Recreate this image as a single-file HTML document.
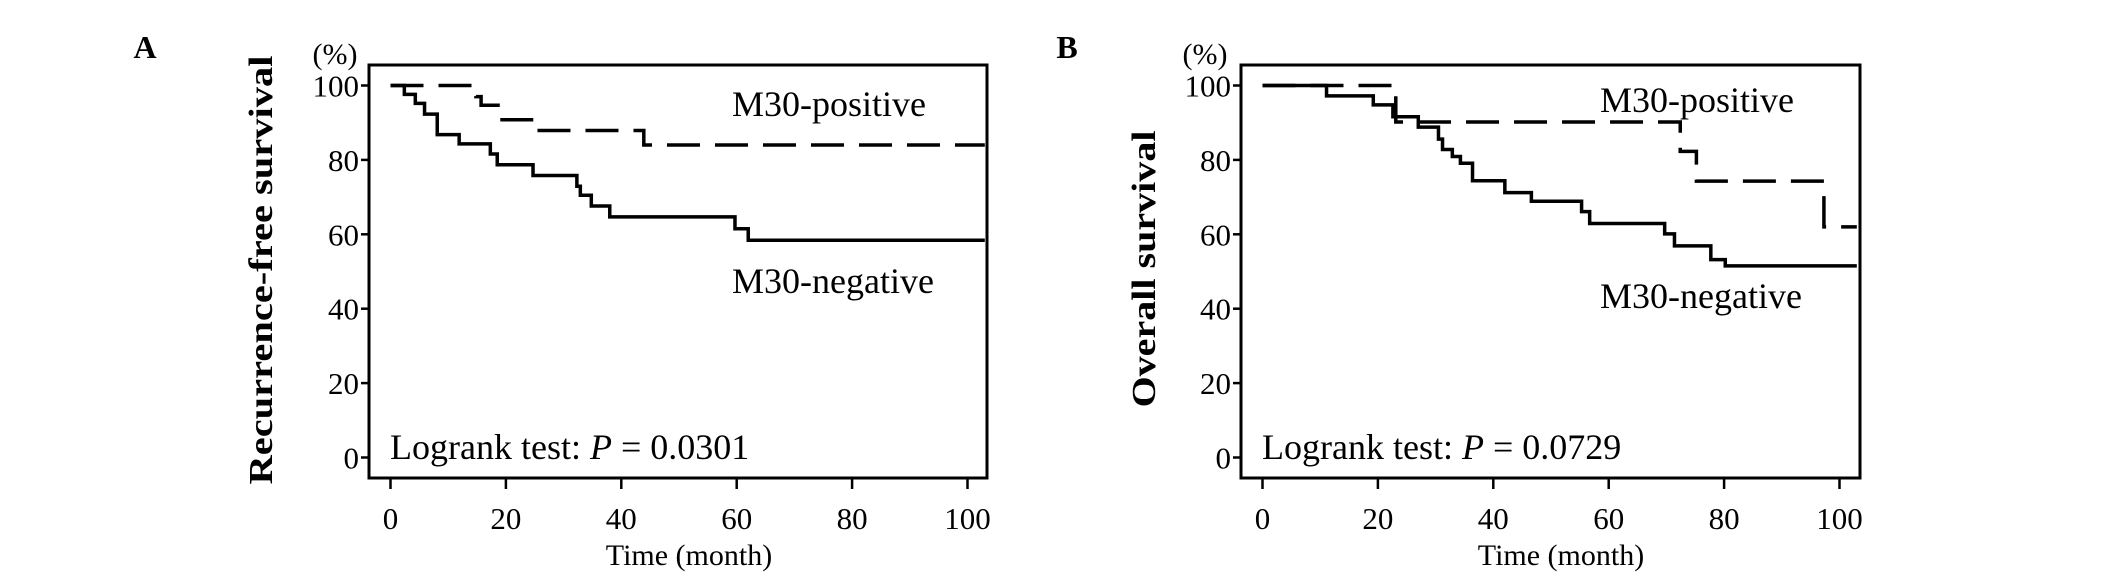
<!DOCTYPE html>
<html><head><meta charset="utf-8"><style>
html,body{margin:0;padding:0;background:#fff;}
svg{display:block;font-family:"Liberation Serif",serif;}
</style></head><body>
<svg id="fig" width="2126" height="583" viewBox="0 0 2126 583" xmlns="http://www.w3.org/2000/svg">
<rect width="2126" height="583" fill="#fff"/>
</svg>
<script>
// Panel A: recurrence-free survival
const aPosTimes = [0, 14.8, 15.7, 19, 25, 43.9, 103];
const aPosVals  = [100, 97, 94.7, 90.8, 87.9, 84, 84];
const aNegTimes = [0, 2.4, 4.3, 5.9, 8.1, 11.9, 17.3, 18.5, 24.7, 32.3, 32.9, 34.8, 38, 59.7, 62, 103];
const aNegVals  = [100, 97.6, 95.2, 92.3, 86.8, 84.3, 81.6, 78.7, 75.8, 72.9, 70.5, 67.6, 64.7, 61.5, 58.4, 58.4];
// Panel B: overall survival
const bPosTimes = [0, 23.1, 72.4, 75.2, 97.3, 103];
const bPosVals  = [100, 90.2, 82.3, 74.3, 62, 62];
const bNegTimes = [0, 11.1, 19.2, 22.6, 27, 30.5, 31.2, 32.9, 34.3, 36.4, 42, 46.6, 55.3, 56.7, 69.7, 71.4, 77.7, 80.2, 103];
const bNegVals  = [100, 97.2, 94.8, 91.6, 88.8, 85.6, 82.8, 80.9, 79.1, 74.4, 71.2, 68.9, 66.1, 62.9, 60.1, 56.9, 53.2, 51.5, 51.5];
const xTicks = [0, 20, 40, 60, 80, 100];
const yTicks = [0, 20, 40, 60, 80, 100];

const NS = "http://www.w3.org/2000/svg";
const svg = document.getElementById('fig');
function mk(tag, attrs, parent, text){
  const e = document.createElementNS(NS, tag);
  for (const k in attrs) e.setAttribute(k, attrs[k]);
  if (text !== undefined) e.textContent = text;
  (parent || svg).appendChild(e);
  return e;
}

function panel(cfg){
  const g = mk('g', {});
  
  
  const x0 = cfg.x0, y0 = 457.5, ppm = 5.77, ppp = 3.72;
  const X = t => x0 + t * ppm;
  const Y = v => y0 - v * ppp;
  const box = mk('rect', {x: cfg.boxL, y: 65, width: cfg.boxR - cfg.boxL, height: 478 - 65, fill: 'none', stroke: '#000', 'stroke-width': 3}, g);
  
  
  yTicks.forEach(v => {
    const l = mk('line', {x1: cfg.boxL - 8, x2: cfg.boxL, y1: Y(v), y2: Y(v), stroke: '#000', 'stroke-width': 2.5}, g);
    
    
    const t = mk('text', {x: cfg.boxL - 10, y: Y(v) + 11, 'text-anchor': 'end', 'font-size': 31}, g, String(v));
    
    
  });
  xTicks.forEach(v => {
    const l = mk('line', {x1: X(v), x2: X(v), y1: 478, y2: 489, stroke: '#000', 'stroke-width': 2.5}, g);
    
    
    const t = mk('text', {x: X(v), y: 529, 'text-anchor': 'middle', 'font-size': 31}, g, String(v));
    
    
  });
  function step(times, vals, dashed, name){
    let d = 'M' + X(times[0]) + ' ' + Y(vals[0]);
    for (let i = 1; i < times.length; i++){
      d += ' H' + Math.min(X(times[i]), cfg.boxR - 2);
      d += ' V' + Y(vals[i]);
    }
    const p = mk('path', {d: d, fill: 'none', stroke: '#000', 'stroke-width': 3.5, 'stroke-dasharray': dashed ? '33 15' : 'none'}, g);
    
    
  }
  step(cfg.negT, cfg.negV, false, 'm30-negative-curve');
  step(cfg.posT, cfg.posV, true, 'm30-positive-curve');
  const pl = mk('text', {x: cfg.posX, y: cfg.posY, 'font-size': 36}, g, 'M30-positive');
  
  
  const nl = mk('text', {x: cfg.negX, y: cfg.negY, 'font-size': 36}, g, 'M30-negative');
  
  
  const lr = mk('text', {x: cfg.boxL + 21, y: 459, 'font-size': 36}, g);
  
  
  mk('tspan', {}, lr, 'Logrank test: ');
  mk('tspan', {'font-style': 'italic'}, lr, 'P');
  mk('tspan', {}, lr, ' = ' + cfg.p);
  const tt = mk('text', {x: (X(0) + X(100)) / 2 + 10, y: 565, 'text-anchor': 'middle', 'font-size': 30, 'xml:space': 'preserve'}, g, 'Time  (month)');
  
  
  const pc = mk('text', {x: cfg.pctX, y: 64, 'text-anchor': 'middle', 'font-size': 30}, g, '(%)');
  
  
  const yt = mk('text', {x: 0, y: 0, 'text-anchor': 'middle', 'font-size': 34, 'font-weight': 'bold', textLength: cfg.titleLen, lengthAdjust: 'spacingAndGlyphs', transform: 'translate(' + (cfg.titleX + 12) + ',' + cfg.titleY + ') rotate(-90)'}, g, cfg.title);
  
  
  const lb = mk('text', {x: cfg.labX, y: 58, 'text-anchor': 'middle', 'font-size': 32, 'font-weight': 'bold'}, g, cfg.id);
  
  
}

panel({id: 'A', x0: 390.5, boxL: 369, boxR: 987, posT: aPosTimes, posV: aPosVals, negT: aNegTimes, negV: aNegVals,
  posX: 732, posY: 116, negX: 732, negY: 293, p: '0.0301', pctX: 335, titleX: 260, titleY: 270, titleLen: 429,
  title: 'Recurrence-free survival', labX: 145});
panel({id: 'B', x0: 1262.5, boxL: 1241, boxR: 1860, posT: bPosTimes, posV: bPosVals, negT: bNegTimes, negV: bNegVals,
  posX: 1600, posY: 112, negX: 1600, negY: 308, p: '0.0729', pctX: 1205, titleX: 1143, titleY: 269, titleLen: 277,
  title: 'Overall survival', labX: 1067});
</script>
</body></html>
